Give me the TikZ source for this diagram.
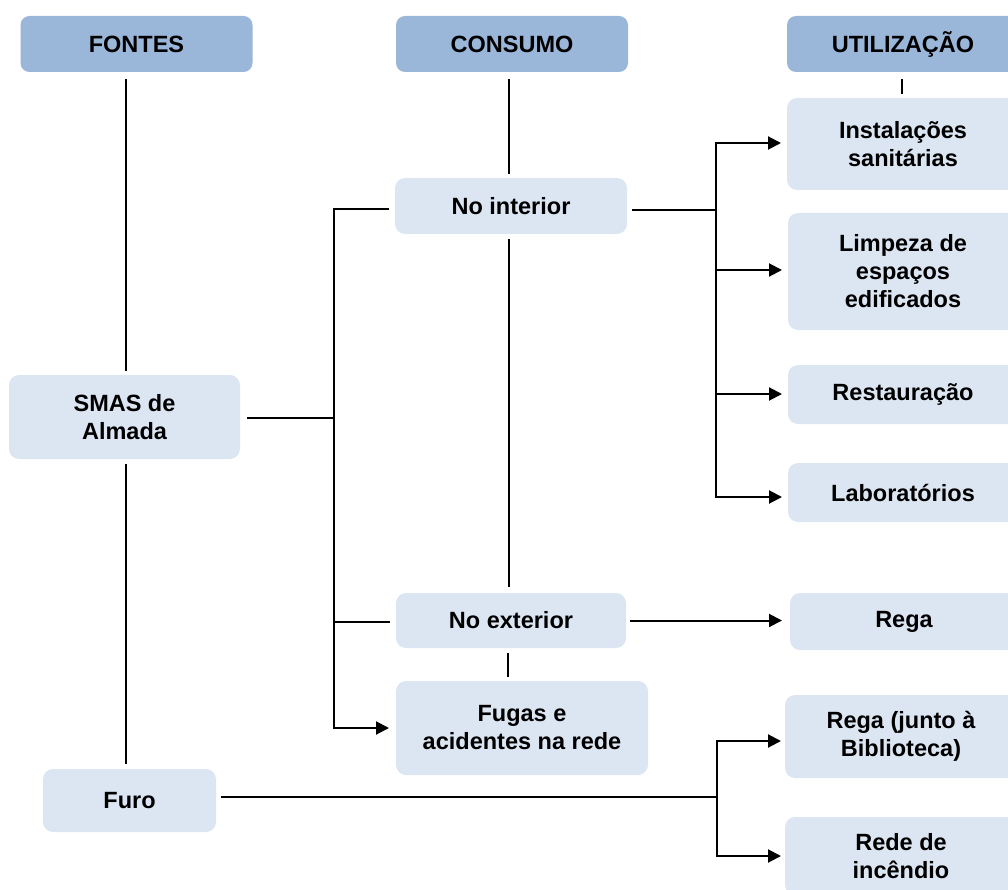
\documentclass[tikz,border=0pt]{standalone}
\usepackage{fontspec}
\setmainfont{Liberation Sans}
\usetikzlibrary{arrows.meta}
\definecolor{hdrblue}{HTML}{9AB6D9}
\definecolor{boxblue}{HTML}{DCE6F2}
\begin{document}
\begin{tikzpicture}[x=1pt, y=-1pt,
    font=\fontsize{23.5}{28}\selectfont\bfseries, line width=2pt,
    hdr/.style={fill=hdrblue, rounded corners=9pt, align=center, minimum width=232pt, minimum height=56pt},
    box/.style={fill=boxblue, rounded corners=10pt, align=center, inner sep=0pt},
    arr/.style={-{Triangle[length=13pt,width=13pt]}, shorten >=5pt}]
  \useasboundingbox (0,0) rectangle (1008,890);
  \clip (0,0) rectangle (1008,890);
  % cabecalhos
  \node[hdr] (fontes) at (136.5,44) {FONTES};
  \node[hdr] (consumo) at (512,44) {CONSUMO};
  \node[hdr] (utiliz) at (903,44) {UTILIZAÇÃO};
  % fontes
  \node[box, minimum width=231pt, minimum height=84pt] (smas) at (124.5,417) {SMAS de\\Almada};
  \node[box, minimum width=173pt, minimum height=63pt] (furo) at (129.5,800.5) {Furo};
  % consumo
  \node[box, minimum width=232pt, minimum height=56pt] (interior) at (511,206) {No interior};
  \node[box, minimum width=230pt, minimum height=55pt] (exterior) at (511,620.5) {No exterior};
  \node[box, minimum width=252pt, minimum height=94pt] (fugas) at (522,728) {Fugas e\\acidentes na rede};
  % utilizacao
  \node[box, minimum width=232pt, minimum height=92pt] (inst) at (903,144) {Instalações\\sanitárias};
  \node[box, minimum width=230pt, minimum height=117pt] (limp) at (903,271.5) {Limpeza de\\espaços\\edificados};
  \node[box, minimum width=230pt, minimum height=59pt] (rest) at (903,394.5) {Restauração};
  \node[box, minimum width=230pt, minimum height=59pt] (lab) at (903,492.5) {Laboratórios};
  \node[box, minimum width=228pt, minimum height=57pt] (rega) at (904,621.5) {Rega};
  \node[box, minimum width=232pt, minimum height=83pt] (regab) at (901,736.5) {Rega (junto à\\Biblioteca)};
  \node[box, minimum width=232pt, minimum height=78pt] (rede) at (901,856) {Rede de\\incêndio};
  % linhas verticais
  \draw[shorten <=6pt, shorten >=3pt] ([xshift=1.5pt]fontes.south -| smas.north) -- ([xshift=1.5pt]smas.north);
  \draw[shorten <=4pt, shorten >=4pt] ([xshift=1.5pt]smas.south) -- ([xshift=1.5pt]smas.south |- furo.north);
  \draw[shorten <=6pt, shorten >=3pt] ([xshift=-3pt]consumo.south) -- ([xshift=-2pt]interior.north);
  \draw[shorten <=4pt, shorten >=5pt] ([xshift=-2pt]interior.south) -- ([xshift=-2pt]exterior.north);
  \draw[shorten <=4pt, shorten >=3pt] ([xshift=-3pt]exterior.south) -- ([xshift=-3pt]exterior.south |- fugas.north);
  \draw[shorten <=6pt, shorten >=3pt] ([xshift=-1pt]utiliz.south) -- ([xshift=-1pt]inst.north);
  % ramificacoes
  \coordinate (b1) at (334,418);
  \coordinate (b2) at (716,210);
  \coordinate (b3) at (717,797);
  \draw[shorten <=6pt] (smas.east |- b1) -- (b1);
  \draw[shorten >=5pt] (b1) |- ([yshift=-3pt]interior.west);
  \draw[shorten >=5pt] (b1) |- ([yshift=-1.5pt]exterior.west);
  \draw[arr, shorten >=6pt] (b1) |- (fugas.west);
  \draw[shorten <=4pt] (interior.east |- b2) -- (b2);
  \foreach \n/\dy in {inst/1, limp/1.5, rest/0.5, lab/-4.5} {
    \draw[arr] (b2) |- ([yshift=\dy pt]\n.west);
  }
  \draw[arr, shorten <=3pt, shorten >=7pt] (exterior.east) -- (rega.west |- exterior.east);
  \draw[shorten <=4pt] (furo.east |- b3) -- (b3);
  \draw[arr, shorten >=3pt] (b3) |- ([yshift=-4.5pt]regab.west);
  \draw[arr, shorten >=3pt] (b3) |- (rede.west);
\end{tikzpicture}
\end{document}
